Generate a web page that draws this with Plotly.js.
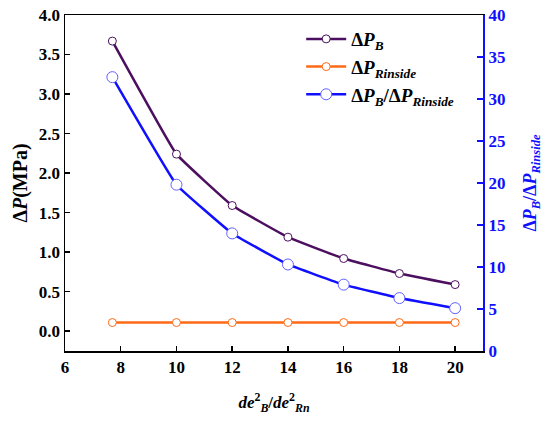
<!DOCTYPE html>
<html>
<head>
<meta charset="utf-8">
<script src="https://cdn.plot.ly/plotly-3.0.1.min.js"></script>
<style>html,body{margin:0;padding:0;background:#fff;}#chart{width:550px;height:422px;}</style>
</head>
<body>
<div id="chart"></div>
<script>
const xValues = [7.7, 10, 12, 14, 16, 18, 20];
const dPB = [3.67, 2.24, 1.59, 1.19, 0.92, 0.73, 0.59];
const dPRinside = [0.11, 0.11, 0.11, 0.11, 0.11, 0.11, 0.11];
const ratio = [32.6, 19.8, 14.0, 10.3, 7.9, 6.3, 5.1];
const xTicks = [6, 8, 10, 12, 14, 16, 18, 20];
const yTicks = [0, 0.5, 1, 1.5, 2, 2.5, 3, 3.5, 4];
const y2Ticks = [0, 5, 10, 15, 20, 25, 30, 35, 40];

const purple = '#4c0f5f';
const orange = '#ff6a16';
const blue = '#1010ff';
const fontFam = 'Liberation Serif, Times New Roman, serif';

const traces = [
  {x: xValues, y: dPB, name: '<b>Δ<i>P</i><sub><i>B</i></sub></b>', type: 'scatter', mode: 'lines+markers',
   line: {color: purple, width: 2.5, shape: 'spline', smoothing: 0.25},
   marker: {symbol: 'circle', size: 8, color: '#fff', line: {color: purple, width: 1}}},
  {x: xValues, y: dPRinside, name: '<b>Δ<i>P</i><sub><i>Rinside</i></sub></b>', type: 'scatter', mode: 'lines+markers',
   line: {color: orange, width: 2.5, shape: 'spline', smoothing: 0.25},
   marker: {symbol: 'circle', size: 8, color: '#fff', line: {color: orange, width: 1}}},
  {x: xValues, y: ratio, name: '<b>Δ<i>P</i><sub><i>B</i></sub>/Δ<i>P</i><sub><i>Rinside</i></sub></b>', type: 'scatter', mode: 'lines+markers',
   yaxis: 'y2',
   line: {color: blue, width: 2.5, shape: 'spline', smoothing: 0.25},
   marker: {symbol: 'circle', size: 11, color: '#fff', line: {color: '#6060ff', width: 1}}}
];

const layout = {
  width: 550, height: 422,
  margin: {l: 65, r: 67, t: 15, b: 71},
  paper_bgcolor: '#fff', plot_bgcolor: '#fff',
  font: {family: fontFam, size: 15, color: '#000'},
  showlegend: true,
  legend: {x: 0.565, y: 0.985, xanchor: 'left', yanchor: 'top', bgcolor: 'rgba(0,0,0,0)',
           font: {family: fontFam, size: 19, color: '#000'}, tracegroupgap: 0, itemwidth: 40},
  xaxis: {range: [6, 21], tickvals: xTicks, ticktext: xTicks.map(v => '<b>' + v + '</b>'),
          showline: true, linecolor: '#000', linewidth: 1.5, mirror: true,
          ticks: 'inside', ticklen: 5, tickwidth: 1.5, tickcolor: '#000',
          showgrid: false, zeroline: false,
          tickfont: {family: fontFam, size: 17, color: '#000'},
          title: {text: '<b><i>de</i><sup>2</sup><sub><i>B</i></sub>/<i>de</i><sup>2</sup><sub><i>Rn</i></sub></b>', standoff: 20,
                  font: {family: fontFam, size: 17, color: '#000'}}},
  yaxis: {range: [-0.25, 4.0], tickvals: yTicks, ticktext: yTicks.map(v => '<b>' + v.toFixed(1) + '</b>'),
          showline: true, linecolor: '#000', linewidth: 1.5,
          ticks: 'inside', ticklen: 5, tickwidth: 1.5, tickcolor: '#000',
          showgrid: false, zeroline: false,
          tickfont: {family: fontFam, size: 17, color: '#000'},
          title: {text: '<b>Δ<i>P</i>(MPa)</b>', standoff: 6,
                  font: {family: fontFam, size: 20, color: '#000'}}},
  yaxis2: {range: [0, 40], tickvals: y2Ticks, ticktext: y2Ticks.map(v => '<b>' + v + '</b>'), overlaying: 'y', side: 'right',
           showline: true, linecolor: blue, linewidth: 2,
           ticks: 'inside', ticklen: 6, tickwidth: 2, tickcolor: blue,
           showgrid: false, zeroline: false,
           tickfont: {family: fontFam, size: 17, color: blue},
           title: {text: '<b>Δ<i>P</i><sub><i>B</i></sub>/Δ<i>P</i><sub><i>Rinside</i></sub></b>', standoff: 19,
                   font: {family: fontFam, size: 18, color: blue}}}
};

Plotly.newPlot('chart', traces, layout, {displayModeBar: false, staticPlot: true});
</script>
</body>
</html>
